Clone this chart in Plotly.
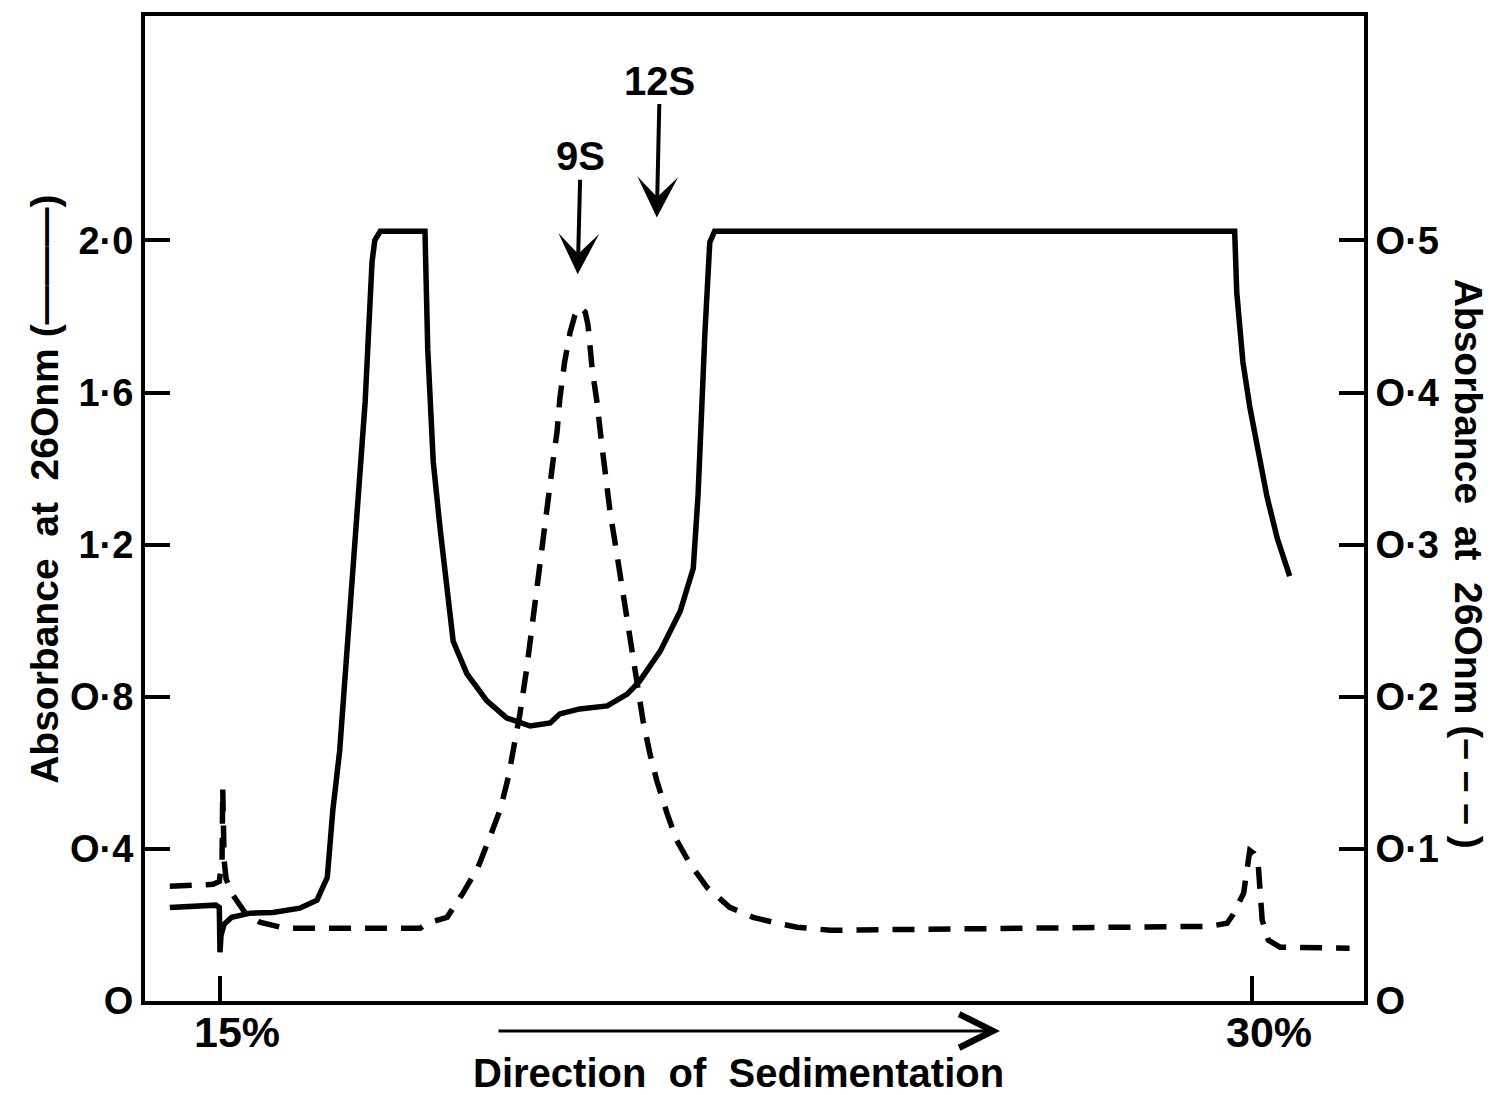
import plotly.graph_objects as go

# Sucrose gradient position (%) and absorbance at 260 nm, solid trace (left axis)
sucrose_solid = [14.27, 14.94, 14.99, 15.00, 15.015, 15.06, 15.17, 15.44, 15.77, 16.16,
                 16.41, 16.56, 16.64, 16.74, 16.96, 17.11, 17.21, 17.25, 17.33, 17.98,
                 18.02, 18.10, 18.20, 18.30, 18.39, 18.59, 18.88, 19.17, 19.51, 19.80,
                 19.94, 20.23, 20.63, 20.92, 21.10, 21.40, 21.69, 21.88, 21.95, 22.05,
                 22.12, 22.19, 29.75, 29.78, 29.87, 29.97, 30.09, 30.22, 30.37, 30.55]
a260_solid = [0.246, 0.252, 0.246, 0.128, 0.173, 0.202, 0.220, 0.231, 0.233, 0.244,
              0.265, 0.325, 0.501, 0.658, 1.182, 1.575, 1.942, 2.000, 2.024, 2.024,
              1.714, 1.418, 1.242, 1.069, 0.946, 0.860, 0.789, 0.744, 0.723, 0.731,
              0.755, 0.768, 0.776, 0.807, 0.841, 0.920, 1.025, 1.138, 1.332, 1.759,
              1.995, 2.024, 2.024, 1.864, 1.680, 1.562, 1.444, 1.326, 1.216, 1.117]

# Dashed trace (right axis, expanded scale)
sucrose_dashed = [14.27, 14.90, 14.99, 15.03, 15.04, 15.06, 15.09, 15.19, 15.36, 15.58,
                  15.94, 17.91, 18.01, 18.30, 18.53, 18.75, 18.92, 19.07, 19.19, 19.29,
                  19.36, 19.46, 19.53, 19.61, 19.69, 19.77, 19.84, 19.90, 19.94, 20.01,
                  20.09, 20.16, 20.23, 20.31, 20.35, 20.41, 20.48, 20.55, 20.61, 20.67,
                  20.77, 20.86, 20.96, 21.06, 21.15, 21.25, 21.35, 21.50, 21.64, 21.83,
                  22.08, 22.41, 22.75, 23.10, 23.39, 23.87, 28.95, 29.39, 29.64, 29.72,
                  29.88, 29.94, 29.97, 30.03, 30.09, 30.15, 30.24, 30.41, 31.42]
a260_dashed = [0.0754, 0.0767, 0.0786, 0.0924, 0.1396, 0.0924, 0.0800, 0.0695, 0.0583, 0.0518,
               0.0478, 0.0478, 0.0511, 0.0550, 0.0708, 0.0878, 0.1075, 0.1252, 0.1468, 0.1691,
               0.1887, 0.2189, 0.2451, 0.2713, 0.3001, 0.3329, 0.3545, 0.3742, 0.3958, 0.4201,
               0.4397, 0.4509, 0.4561, 0.4528, 0.4443, 0.4155, 0.3938, 0.3657, 0.3414, 0.3218,
               0.2936, 0.2674, 0.2366, 0.2058, 0.1841, 0.1625, 0.1448, 0.1232, 0.1055, 0.0904,
               0.0747, 0.0616, 0.0550, 0.0511, 0.0485, 0.0465, 0.0485, 0.0491, 0.0511, 0.0564,
               0.0708, 0.0878, 0.0990, 0.0970, 0.0911, 0.0531, 0.0400, 0.0354, 0.0347]

left_ticks = [0, 0.4, 0.8, 1.2, 1.6, 2.0]
left_labels = ["O", "O·4", "O·8", "1·2", "1·6", "2·0"]
right_ticks = [0, 0.1, 0.2, 0.3, 0.4, 0.5]
right_labels = ["O", "O·1", "O·2", "O·3", "O·4", "O·5"]
gradient_ticks = [15, 30]
gradient_labels = ["15%", "30%"]

# Sedimentation markers: name, gradient position, arrow tip height (left-axis units)
marker_names = ["9S", "12S"]
marker_pos = [20.20, 21.35]
marker_tip = [1.911, 2.060]

FONT = "Liberation Sans"
INK = "black"

fig = go.Figure()
fig.add_trace(go.Scatter(x=sucrose_solid, y=a260_solid, mode="lines",
                         line=dict(color=INK, width=5.5), yaxis="y", showlegend=False))
fig.add_trace(go.Scatter(x=sucrose_dashed, y=a260_dashed, mode="lines",
                         line=dict(color=INK, width=5.5, dash="22px,14px"),
                         yaxis="y2", showlegend=False))

axis_common = dict(showline=True, linewidth=4, linecolor=INK, showgrid=False,
                   zeroline=False, ticks="inside", ticklen=25, tickwidth=4, tickcolor=INK)
tickfont = dict(family=FONT, size=38, color=INK, weight="bold")

fig.update_layout(
    width=1501, height=1095,
    margin=dict(l=145, r=137, t=13, b=94),
    paper_bgcolor="white", plot_bgcolor="white",
    xaxis=dict(range=[13.91, 31.63], mirror=True, tickvals=gradient_ticks,
               showticklabels=False, **axis_common),
    yaxis=dict(range=[0, 2.59], mirror=True, tickvals=left_ticks, ticktext=left_labels,
               tickfont=tickfont, **axis_common),
    yaxis2=dict(range=[0, 2.59 / 4], overlaying="y", side="right", tickvals=right_ticks,
                ticktext=right_labels, tickfont=tickfont, **axis_common),
)

annotations = []
for lab, xv in zip(gradient_labels, gradient_ticks):
    annotations.append(dict(x=xv, xref="x", y=-0.031, yref="paper", text=lab, showarrow=False,
                            xshift=17, font=dict(family=FONT, size=43, color=INK, weight="bold"),
                            xanchor="center", yanchor="middle"))
for name, xv, yv in zip(marker_names, marker_pos, marker_tip):
    annotations.append(dict(x=xv, y=yv, xref="x", yref="y", text=name, showarrow=True,
                            arrowhead=3, arrowsize=1.7, arrowwidth=4, arrowcolor=INK,
                            ax=3, ay=-118 if name == "9S" else -137,
                            font=dict(family=FONT, size=40, color=INK, weight="bold")))
# direction arrow under the axis
annotations.append(dict(x=0.7014, y=-0.0304, xref="paper", yref="paper", text="",
                        showarrow=True, arrowhead=5, arrowsize=2.2, arrowwidth=3,
                        arrowcolor=INK, ax=-503, ay=0))
annotations.append(dict(x=0.4865, y=-0.0729, xref="paper", yref="paper",
                        text="Direction  of  Sedimentation", showarrow=False,
                        font=dict(family=FONT, size=40, color=INK, weight="bold"),
                        xanchor="center", yanchor="middle"))
annotations.append(dict(x=-0.082, y=0.519, xref="paper", yref="paper",
                        text="Absorbance  at  26Onm (———)", textangle=-90, showarrow=False,
                        font=dict(family=FONT, size=39, color=INK, weight="bold"),
                        xanchor="center", yanchor="middle"))
annotations.append(dict(x=1.0853, y=0.444, xref="paper", yref="paper",
                        text="Absorbance  at  26Onm (– – – )", textangle=90, showarrow=False,
                        font=dict(family=FONT, size=39, color=INK, weight="bold"),
                        xanchor="center", yanchor="middle"))
fig.update_layout(annotations=annotations)

fig.write_html("out.html")
